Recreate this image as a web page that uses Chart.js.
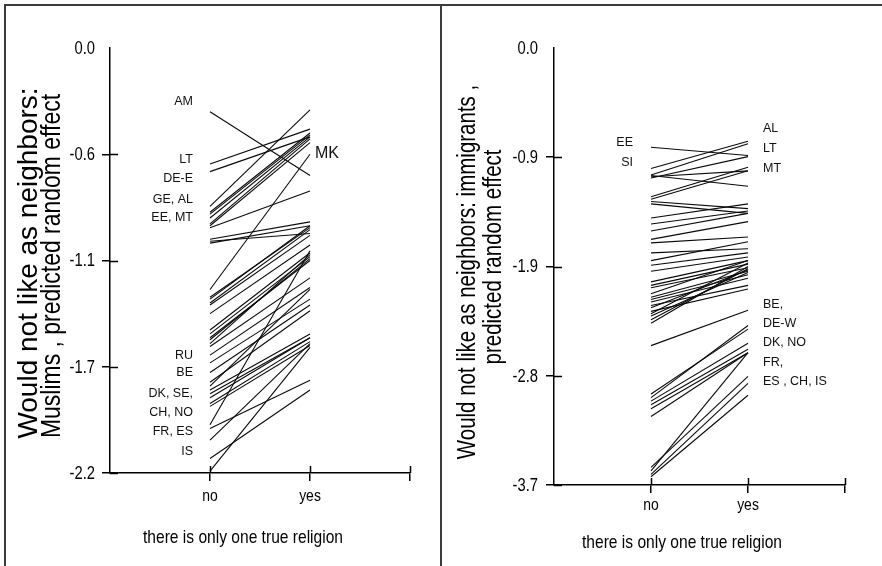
<!DOCTYPE html>
<html>
<head>
<meta charset="utf-8">
<script src="https://cdn.jsdelivr.net/npm/chart.js@4.4.1/dist/chart.umd.min.js"></script>
<style>
html,body{margin:0;padding:0;background:#fff;}
#wrap{position:relative;width:882px;height:566px;overflow:hidden;background:#fff;}
.pane{position:absolute;top:0;width:441px;height:566px;}
.frame{position:absolute;background:#3c3c3c;}
</style>
</head>
<body>
<div id="wrap">
  <div class="pane" style="left:0"><canvas id="c1" width="441" height="566"></canvas></div>
  <div class="pane" style="left:441px"><canvas id="c2" width="441" height="566"></canvas></div>
  <div class="frame" style="left:4px;top:4px;width:878px;height:2px"></div>
  <div class="frame" style="left:4px;top:4px;width:2px;height:562px"></div>
  <div class="frame" style="left:440px;top:4px;width:2px;height:562px"></div>
</div>
<script>
// ---------- data ----------
const CATEGORIES = ['no', 'yes'];

const MUSLIMS_TICK_VALUES = [0, -0.55, -1.1, -1.65, -2.2];
const MUSLIMS_TICK_LABELS = ['0.0', '-0.6', '-1.1', '-1.7', '-2.2'];
const IMMIGRANTS_TICK_VALUES = [0, -0.925, -1.85, -2.775, -3.7];
const IMMIGRANTS_TICK_LABELS = ['0.0', '-0.9', '-1.9', '-2.8', '-3.7'];

const MUSLIMS_NO  = [-0.33, -0.60, -0.64, -0.82, -0.85, -0.86, -0.88, -0.91, -0.92, -0.93, -0.99, -1.00, -1.01,
                     -1.25, -1.29, -1.30, -1.32, -1.33, -1.375, -1.46, -1.48, -1.50, -1.51, -1.53, -1.545, -1.59,
                     -1.63, -1.68, -1.73, -1.75, -1.77, -1.79, -1.81, -1.84, -1.855, -1.95, -1.97, -2.03, -2.125, -2.19];
const MUSLIMS_YES = [-0.66, -0.42, -0.46, -0.32, -0.44, -0.45, -0.46, -0.47, -0.49, -0.74, -0.90, -0.96, -0.92,
                     -0.55, -0.93, -0.92, -0.94, -0.97, -1.02, -1.06, -1.08, -1.10, -1.09, -1.07, -1.19, -1.24,
                     -1.30, -1.33, -1.36, -1.25, -1.48, -1.50, -1.50, -1.52, -1.54, -1.05, -1.72, -1.53, -1.77, -1.55];

const IMMIGRANTS_NO  = [-0.84, -1.02, -1.075, -1.08, -1.09, -1.10, -1.26, -1.28, -1.30, -1.32, -1.44, -1.49, -1.55,
                        -1.62, -1.65, -1.735, -1.80, -1.84, -1.89, -1.98, -2.01, -2.03, -2.08, -2.11, -2.13, -2.15,
                        -2.18, -2.20, -2.23, -2.25, -2.27, -2.30, -2.33, -2.52, -2.93, -2.96, -2.99, -3.02, -3.055,
                        -3.12, -3.55, -3.58, -3.61, -3.63];
const IMMIGRANTS_YES = [-0.91, -0.79, -0.81, -1.17, -1.04, -0.92, -1.01, -1.04, -1.36, -1.40, -1.32, -1.38, -1.40,
                        -1.47, -1.60, -1.70, -1.64, -1.735, -1.77, -1.80, -1.83, -1.86, -1.80, -1.89, -1.92, -1.95,
                        -2.01, -1.88, -2.04, -1.82, -1.90, -1.87, -1.85, -2.22, -2.38, -2.35, -2.50, -2.55, -2.58,
                        -2.58, -2.78, -2.58, -2.84, -2.94];

const MUSLIMS_NO_LABELS = ['AM', 'LT', 'DE-E', 'GE, AL', 'EE, MT', 'RU', 'BE', 'DK, SE,', 'CH, NO', 'FR, ES', 'IS'];
const MUSLIMS_NO_LABEL_VALUES = [-0.277, -0.578, -0.678, -0.782, -0.880, -1.592, -1.682, -1.789, -1.887, -1.987, -2.091];
const MUSLIMS_YES_LABELS = ['MK'];
const MUSLIMS_YES_LABEL_VALUES = [-0.546];

const IMMIGRANTS_NO_LABELS = ['EE', 'SI'];
const IMMIGRANTS_NO_LABEL_VALUES = [-0.798, -0.967];
const IMMIGRANTS_YES_LABELS = ['AL', 'LT', 'MT', 'BE,', 'DE-W', 'DK, NO', 'FR,', 'ES , CH, IS'];
const IMMIGRANTS_YES_LABEL_VALUES = [-0.682, -0.854, -1.019, -2.171, -2.334, -2.496, -2.662, -2.825];

const MUSLIMS_Y_TITLE = ['Would not like as neighbors:', 'Muslims , predicted random effect'];
const IMMIGRANTS_Y_TITLE = ['Would not like as neighbors: immigrants ,', 'predicted random effect'];
const X_TITLE = 'there is only one true religion';

// ---------- helpers ----------
const REG = "'Liberation Sans', Arial, sans-serif";
const NARROW_FACTOR = 0.82;   // emulate Arial Narrow by horizontal compression

function fillText(ctx, text, x, y, narrow) {
  if (narrow) {
    const w = ctx.measureText(text).width;
    ctx.fillText(text, x, y, w * NARROW_FACTOR);
  } else {
    ctx.fillText(text, x, y);
  }
}

function buildDatasets(noVals, yesVals) {
  return noVals.map((v, i) => ({
    label: 'country ' + (i + 1),
    data: [{x: 1, y: v}, {x: 2, y: yesVals[i]}],
    borderColor: '#0a0a0a',
    borderWidth: 1.1,
    pointRadius: 0,
    fill: false,
    tension: 0
  }));
}

function makeChart(canvas, cfg) {
  const annot = {
    id: 'annot',
    afterDraw(chart) {
      const {ctx, chartArea: a} = chart;
      const xs = chart.scales.x, ys = chart.scales.y;
      ctx.save();
      // inner halves of tick marks
      ctx.strokeStyle = '#000';
      ctx.lineWidth = 1.5;
      cfg.tickValues.forEach(v => {
        if (v === 0) return;
        const py = Math.round(ys.getPixelForValue(v)) + 0.5;
        ctx.beginPath(); ctx.moveTo(a.left, py); ctx.lineTo(a.left + 8, py); ctx.stroke();
      });
      [1, 2, 3].forEach(v => {
        const px = Math.round(xs.getPixelForValue(v)) + 0.5;
        ctx.beginPath(); ctx.moveTo(px, a.bottom); ctx.lineTo(px, a.bottom - 7); ctx.stroke();
      });
      ctx.fillStyle = '#000';
      // y tick labels
      ctx.font = '18px ' + REG;
      ctx.textAlign = 'right';
      ctx.textBaseline = 'middle';
      cfg.tickValues.forEach((v, i) => fillText(ctx, cfg.tickLabels[i], a.left - 8 - cfg.yTickPad, ys.getPixelForValue(v) + 1, true));
      // x tick labels
      ctx.font = '17px ' + REG;
      ctx.textAlign = 'center';
      CATEGORIES.forEach((c, i) => fillText(ctx, c, xs.getPixelForValue(i + 1), a.bottom + 8 + cfg.xTickPad + 10, true));
      // country labels
      ctx.fillStyle = '#111';
      ctx.font = '12.5px ' + REG;
      ctx.textAlign = 'right';
      cfg.noLabels.forEach((t, i) => ctx.fillText(t, cfg.noLabelX, ys.getPixelForValue(cfg.noLabelValues[i])));
      ctx.textAlign = 'left';
      ctx.font = (cfg.yesLabelSize || 12.5) + 'px ' + REG;
      cfg.yesLabels.forEach((t, i) => ctx.fillText(t, cfg.yesLabelX, ys.getPixelForValue(cfg.yesLabelValues[i])));
      // y-axis title (rotated)
      ctx.fillStyle = '#000';
      cfg.yTitle.forEach((t, i) => {
        const tl = cfg.yTitleLayout[i];
        ctx.save();
        ctx.translate(tl.x, tl.y);
        ctx.rotate(-Math.PI / 2);
        ctx.font = tl.size + 'px ' + REG;
        ctx.textAlign = 'center';
        ctx.textBaseline = 'alphabetic';
        fillText(ctx, t, 0, 0, tl.narrow);
        ctx.restore();
      });
      // x-axis title
      ctx.font = '19px ' + REG;
      ctx.textAlign = 'center';
      ctx.textBaseline = 'middle';
      fillText(ctx, X_TITLE, cfg.xTitleX, cfg.xTitleY, true);
      ctx.restore();
    }
  };

  return new Chart(canvas, {
    type: 'line',
    data: {datasets: buildDatasets(cfg.no, cfg.yes)},
    options: {
      responsive: false,
      animation: false,
      events: [],
      layout: {padding: {left: 0, top: cfg.top, right: cfg.right, bottom: 0}},
      plugins: {legend: {display: false}, tooltip: {enabled: false}},
      scales: {
        x: {
          type: 'linear', min: 0, max: 3,
          afterBuildTicks: s => { s.ticks = [0, 1, 2, 3].map(v => ({value: v})); },
          afterFit: s => { s.height = cfg.xHeight; },
          ticks: {display: false},
          grid: {
            drawOnChartArea: false, drawTicks: true, tickLength: 8, lineWidth: 1.5,
            color: c => (c.tick && c.tick.value === 0) ? 'rgba(0,0,0,0)' : '#000'
          },
          border: {display: true, color: '#000', width: 1.5}
        },
        y: {
          type: 'linear', min: cfg.tickValues[cfg.tickValues.length - 1], max: 0,
          afterBuildTicks: s => { s.ticks = cfg.tickValues.map(v => ({value: v})); },
          afterFit: s => { s.width = cfg.yWidth; },
          ticks: {display: false},
          grid: {
            drawOnChartArea: false, drawTicks: true, tickLength: 8, lineWidth: 1.5,
            color: c => (c.tick && c.tick.value === 0) ? 'rgba(0,0,0,0)' : '#000'
          },
          border: {display: true, color: '#000', width: 1.5}
        }
      }
    },
    plugins: [annot]
  });
}

makeChart(document.getElementById('c1'), {
  no: MUSLIMS_NO, yes: MUSLIMS_YES,
  tickValues: MUSLIMS_TICK_VALUES, tickLabels: MUSLIMS_TICK_LABELS,
  top: 48, right: 31, yWidth: 110, xHeight: 93, xTickPad: 5, yTickPad: 7,
  noLabels: MUSLIMS_NO_LABELS, noLabelValues: MUSLIMS_NO_LABEL_VALUES, noLabelX: 193,
  yesLabels: MUSLIMS_YES_LABELS, yesLabelValues: MUSLIMS_YES_LABEL_VALUES, yesLabelX: 315, yesLabelSize: 16,
  yTitle: MUSLIMS_Y_TITLE,
  yTitleLayout: [{x: 36.5, y: 263, size: 28, narrow: false}, {x: 60, y: 266, size: 28, narrow: true}],
  xTitleX: 243, xTitleY: 538
});

makeChart(document.getElementById('c2'), {
  no: IMMIGRANTS_NO, yes: IMMIGRANTS_YES,
  tickValues: IMMIGRANTS_TICK_VALUES, tickLabels: IMMIGRANTS_TICK_LABELS,
  top: 48, right: 37, yWidth: 113, xHeight: 81, xTickPad: 2.5, yTickPad: 8,
  noLabels: IMMIGRANTS_NO_LABELS, noLabelValues: IMMIGRANTS_NO_LABEL_VALUES, noLabelX: 192,
  yesLabels: IMMIGRANTS_YES_LABELS, yesLabelValues: IMMIGRANTS_YES_LABEL_VALUES, yesLabelX: 322,
  yTitle: IMMIGRANTS_Y_TITLE,
  yTitleLayout: [{x: 33.5, y: 272, size: 25, narrow: true}, {x: 60, y: 257, size: 25, narrow: true}],
  xTitleX: 241, xTitleY: 543
});
</script>
</body>
</html>
